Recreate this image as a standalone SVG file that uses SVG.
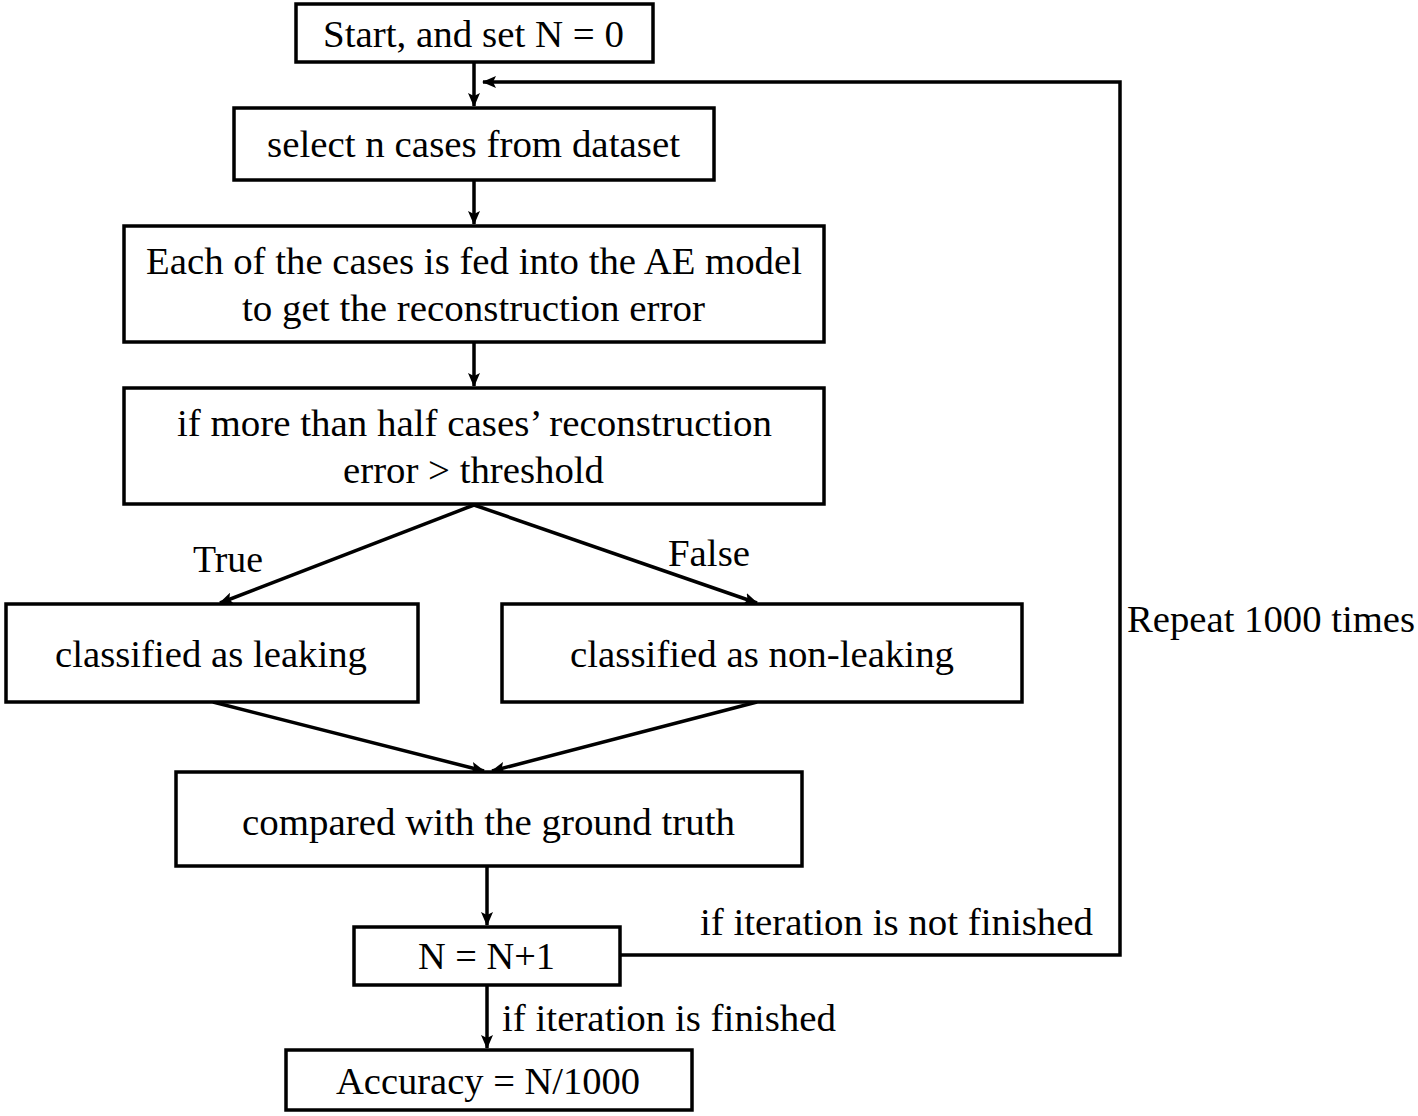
<svg xmlns="http://www.w3.org/2000/svg" width="1418" height="1116" viewBox="0 0 1418 1116">
<style>
.box{fill:#fff;stroke:#000;stroke-width:3.5}
.t{font-family:"Liberation Serif","Times New Roman",serif;font-size:38px;fill:#000;text-anchor:middle}
.l{font-family:"Liberation Serif","Times New Roman",serif;font-size:38px;fill:#000}
.c{fill:none;stroke:#000;stroke-width:3.5}
</style>
<defs>
<marker id="ah" markerWidth="14" markerHeight="12" refX="13" refY="6" orient="auto" markerUnits="userSpaceOnUse">
<path d="M0,0 L14,6 L0,12 L3,6 Z" fill="#000"/>
</marker>
</defs>
<rect width="1418" height="1116" fill="#fff"/>
<g id="connectors">
<line class="c" x1="474" y1="62" x2="474" y2="106" marker-end="url(#ah)"/>
<line class="c" x1="474" y1="180" x2="474" y2="224" marker-end="url(#ah)"/>
<line class="c" x1="474" y1="342" x2="474" y2="386" marker-end="url(#ah)"/>
<line class="c" x1="474" y1="505" x2="220" y2="603" marker-end="url(#ah)"/>
<line class="c" x1="474" y1="505" x2="757" y2="603" marker-end="url(#ah)"/>
<line class="c" x1="213" y1="702" x2="484" y2="771" marker-end="url(#ah)"/>
<line class="c" x1="757" y1="702" x2="492" y2="771" marker-end="url(#ah)"/>
<line class="c" x1="487" y1="866" x2="487" y2="925" marker-end="url(#ah)"/>
<line class="c" x1="487" y1="985" x2="487" y2="1048" marker-end="url(#ah)"/>
<polyline class="c" points="620,955 1120,955 1120,82 483,82" marker-end="url(#ah)"/>
<text class="l" x="193" y="572" textLength="70" lengthAdjust="spacingAndGlyphs">True</text>
<text class="l" x="668" y="566" textLength="82" lengthAdjust="spacingAndGlyphs">False</text>
<text class="l" x="1127" y="632" textLength="288" lengthAdjust="spacingAndGlyphs">Repeat 1000 times</text>
<text class="l" x="700" y="935" textLength="393" lengthAdjust="spacingAndGlyphs">if iteration is not finished</text>
<text class="l" x="502" y="1031" textLength="334" lengthAdjust="spacingAndGlyphs">if iteration is finished</text>
</g>
<g id="n1"><rect class="box" x="296" y="4" width="357" height="58"/><text class="l" x="323" y="47" textLength="301" lengthAdjust="spacingAndGlyphs">Start, and set N = 0</text></g>
<g id="n2"><rect class="box" x="234" y="108" width="480" height="72"/><text class="l" x="267" y="157" textLength="413" lengthAdjust="spacingAndGlyphs">select n cases from dataset</text></g>
<g id="n3"><rect class="box" x="124" y="226" width="700" height="116"/><text class="l" x="146" y="274" textLength="656" lengthAdjust="spacingAndGlyphs">Each of the cases is fed into the AE model</text><text class="l" x="242" y="321" textLength="463" lengthAdjust="spacingAndGlyphs">to get the reconstruction error</text></g>
<g id="n4"><rect class="box" x="124" y="388" width="700" height="116"/><text class="l" x="177" y="436" textLength="595" lengthAdjust="spacingAndGlyphs">if more than half cases’ reconstruction</text><text class="l" x="343" y="483" textLength="261" lengthAdjust="spacingAndGlyphs">error &gt; threshold</text></g>
<g id="n5"><rect class="box" x="6" y="604" width="412" height="98"/><text class="l" x="55" y="667" textLength="312" lengthAdjust="spacingAndGlyphs">classified as leaking</text></g>
<g id="n6"><rect class="box" x="502" y="604" width="520" height="98"/><text class="l" x="570" y="667" textLength="384" lengthAdjust="spacingAndGlyphs">classified as non-leaking</text></g>
<g id="n7"><rect class="box" x="176" y="772" width="626" height="94"/><text class="l" x="242" y="835" textLength="493" lengthAdjust="spacingAndGlyphs">compared with the ground truth</text></g>
<g id="n8"><rect class="box" x="354" y="927" width="266" height="58"/><text class="l" x="418" y="969" textLength="137" lengthAdjust="spacingAndGlyphs">N = N+1</text></g>
<g id="n9"><rect class="box" x="286" y="1050" width="406" height="60"/><text class="l" x="336" y="1094" textLength="304" lengthAdjust="spacingAndGlyphs">Accuracy = N/1000</text></g>
</svg>
